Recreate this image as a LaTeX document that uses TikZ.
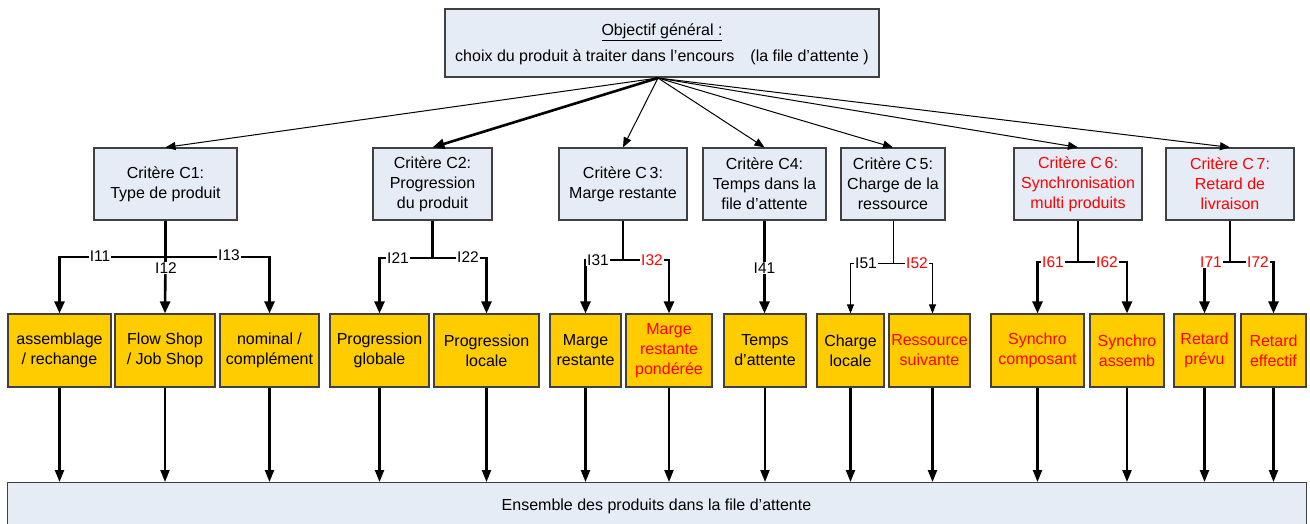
\documentclass[tikz,border=0pt]{standalone}
\usepackage{fontspec}
\setmainfont{Liberation Sans}
\usetikzlibrary{arrows.meta}
\definecolor{boxblue}{HTML}{E6ECF6}
\definecolor{boxyellow}{HTML}{FFCC00}
\definecolor{boxedge}{HTML}{404040}
\definecolor{txtred}{HTML}{FF0000}
\tikzset{
  x=1pt, y=-1pt,
  txt/.style={font=\fontsize{16}{20}\selectfont, align=center},
  crit/.style={txt, draw=boxedge, line width=1.2pt, fill=boxblue, minimum height=72pt, inner sep=2pt},
  yel/.style={txt, draw=boxedge, line width=1.2pt, fill=boxyellow, minimum height=73pt, inner sep=1pt},
  lab/.style={font=\fontsize{15.5}{18}\selectfont, fill=white, inner sep=0.8pt},
  red/.style={text=txtred},
  thinarr/.style={line width=1pt, -{Triangle[length=10pt,width=8pt]}},
  thickarr/.style={line width=2.6pt, -{Triangle[length=12pt,width=10pt]}},
  br/.style={line width=2.6pt},
  brarr/.style={line width=2.6pt, -{Triangle[length=12pt,width=10pt]}},
  brthin/.style={line width=1pt},
  brthinarr/.style={line width=1pt, -{Triangle[length=9pt,width=7pt]}},
  botarr/.style={line width=2.1pt, -{Triangle[length=12pt,width=9pt]}},
}
\begin{document}
\begin{tikzpicture}
\useasboundingbox (0,0) rectangle (1310,524);
% top box
\node[crit, minimum width=434pt, minimum height=68pt] (top) at (662,43) {};
\node[txt] (toptitle) at (662,32) {\underline{Objectif général :}};
\node[txt] (topline) at (662,57) {choix du produit à traiter dans l’encours\quad (la file d’attente )};
\coordinate (apex) at (658,78);
% criteria
\node[crit, minimum width=143pt] (c1) at (165.5,184) {Critère C1:\\Type de produit};
\node[crit, minimum width=119pt] (c2) at (432.5,184) {Critère C2:\\Progression\\du produit};
\node[crit, minimum width=128pt] (c3) at (623,184) {Critère C\,3:\\Marge restante};
\node[crit, minimum width=123pt] (c4) at (764.5,184) {Critère C4:\\Temps dans la\\file d’attente};
\node[crit, minimum width=104pt] (c5) at (893,184) {Critère C\,5:\\Charge de la\\ressource};
\node[crit, minimum width=128pt, red] (c6) at (1078,184) {Critère C\,6:\\Synchronisation\\multi produits};
\node[crit, minimum width=128pt, red] (c7) at (1230,184) {Critère C\,7:\\Retard de\\livraison};
% top arrows
\draw[thinarr] (apex) -- (c1.north);
\draw[thickarr] (apex) -- (c2.north);
\draw[thinarr] (apex) -- (c3.north);
\draw[thinarr] (apex) -- (c4.north);
\draw[thinarr] (apex) -- (c5.north);
\draw[thinarr] (apex) -- (c6.north);
\draw[thinarr] (apex) -- (c7.north);
% yellow boxes
\node[yel, minimum width=103pt] (b1) at (59.5,350.5) {assemblage\\/ rechange};
\node[yel, minimum width=100pt] (b2) at (165,350.5) {Flow Shop\\/ Job Shop};
\node[yel, minimum width=99pt] (b3) at (269.5,350.5) {nominal /\\complément};
\node[yel, minimum width=99pt] (b4) at (379.5,350.5) {Progression\\globale};
\node[yel, minimum width=105pt] (b5) at (486.5,350.5) {Progression\\locale};
\node[yel, minimum width=71pt] (b6) at (585.5,350.5) {Marge\\restante};
\node[yel, minimum width=86pt, red] (b7) at (669,350.5) {Marge\\restante\\pondérée};
\node[yel, minimum width=82pt] (b8) at (765,350.5) {Temps\\d’attente};
\node[yel, minimum width=67pt] (b9) at (850.5,350.5) {Charge\\locale};
\node[yel, minimum width=81pt, red] (b10) at (929.5,350.5) {Ressource\\suivante};
\node[yel, minimum width=93pt, red] (b11) at (1037.5,350.5) {Synchro\\composant};
\node[yel, minimum width=74pt, red] (b12) at (1127,350.5) {Synchro\\assemb};
\node[yel, minimum width=61pt, red] (b13) at (1204.5,350.5) {Retard\\prévu};
\node[yel, minimum width=65pt, red] (b14) at (1273.5,350.5) {Retard\\effectif};
% bottom box
\node[crit, minimum width=1299pt, minimum height=50pt, anchor=north west, inner sep=0pt] (ens) at (7,482) {};
\node[txt] (enstext) at (656.5,506) {Ensemble des produits dans la file d’attente};
% branches C1
\coordinate (j1) at (165.5,257);
\draw[br] (c1.south) -- (j1);
\draw[brarr] (j1) -| (b1.north);
\draw[brarr] (j1) -| (b3.north);
\draw[brarr] (j1) -- (b2.north);
\node[lab] (l11) at (100,256) {I11};
\node[lab] (l12) at (166,268) {I12};
\node[lab] (l13) at (229,255) {I13};
% C2
\coordinate (j2) at (432.5,258);
\draw[br] (c2.south) -- (j2);
\draw[brarr] (j2) -| (b4.north);
\draw[brarr] (j2) -| (b5.north);
\node[lab] (l21) at (398,258) {I21};
\node[lab] (l22) at (468,257) {I22};
% C3
\coordinate (j3) at (623,260);
\draw[br] (c3.south) -- (j3);
\draw[brarr] (j3) -| (b6.north);
\draw[brarr] (j3) -| (b7.north);
\node[lab] (l31) at (598,260) {I31};
\node[lab, red] (l32) at (652,260) {I32};
% C4
\draw[brarr] (c4.south) -- (c4.south |- b8.north);
\node[lab] (l41) at (764.5,268) {I41};
% C5
\coordinate (j5) at (893,263);
\draw[brthin] (c5.south) -- (j5);
\draw[brthinarr] (j5) -| (b9.north);
\draw[brthinarr] (j5) -| ([xshift=3pt]b10.north);
\node[lab] (l51) at (866,263) {I51};
\node[lab, red] (l52) at (917,263) {I52};
% C6
\coordinate (j6) at (1078,262);
\draw[br] (c6.south) -- (j6);
\draw[brarr] (j6) -| (b11.north);
\draw[brarr] (j6) -| (b12.north);
\node[lab, red] (l61) at (1053,262) {I61};
\node[lab, red] (l62) at (1107,262) {I62};
% C7
\coordinate (j7) at (1230,262);
\draw[br] (c7.south) -- (j7);
\draw[brarr] (j7) -| (b13.north);
\draw[brarr] (j7) -| (b14.north);
\node[lab, red] (l71) at (1211,262) {I71};
\node[lab, red] (l72) at (1258,262) {I72};
% bottom arrows
\foreach \b in {b1,b2,b3,b4,b5,b6,b7,b8,b9,b11,b12,b13,b14}{
  \draw[botarr] (\b.south) -- (\b.south |- ens.north);
}
\draw[botarr] ([xshift=3pt]b10.south) -- ([xshift=3pt]b10.south |- ens.north);
\end{tikzpicture}
\end{document}
